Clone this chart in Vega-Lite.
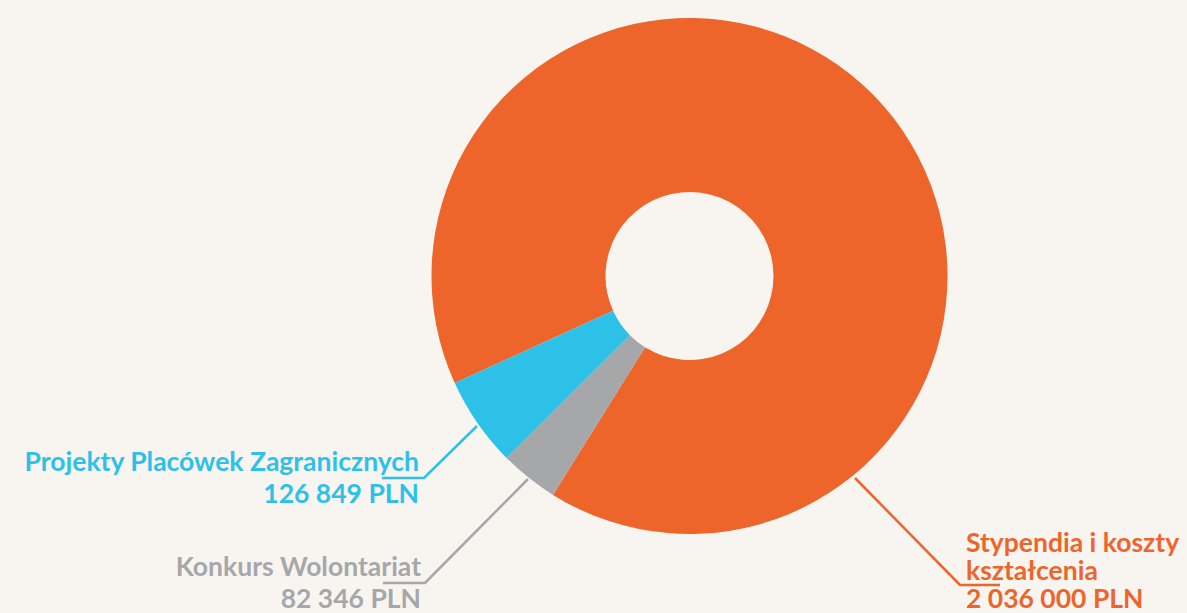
{
  "$schema": "https://vega.github.io/schema/vega-lite/v6.json",
  "width": 995,
  "height": 552,
  "autosize": {"type": "none"},
  "padding": {"left": 192, "top": 0, "right": 0, "bottom": 61},
  "background": "#F8F5F1",
  "config": {"view": {"stroke": null}},
  "datasets": {
    "slices": [
      {"category": "Stypendia i koszty kształcenia", "amount": 2036000, "ord": 1},
      {"category": "Konkurs Wolontariat", "amount": 82346, "ord": 2},
      {"category": "Projekty Placówek Zagranicznych", "amount": 126849, "ord": 3}
    ],
    "leaders": [
      {"category": "Projekty Placówek Zagranicznych", "pt": 1, "x": 382, "y": 478},
      {"category": "Projekty Placówek Zagranicznych", "pt": 2, "x": 424, "y": 478},
      {"category": "Projekty Placówek Zagranicznych", "pt": 3, "x": 477, "y": 426},
      {"category": "Konkurs Wolontariat", "pt": 1, "x": 383, "y": 583},
      {"category": "Konkurs Wolontariat", "pt": 2, "x": 425, "y": 583},
      {"category": "Konkurs Wolontariat", "pt": 3, "x": 528, "y": 479},
      {"category": "Stypendia i koszty kształcenia", "pt": 1, "x": 855, "y": 478},
      {"category": "Stypendia i koszty kształcenia", "pt": 2, "x": 960, "y": 585},
      {"category": "Stypendia i koszty kształcenia", "pt": 3, "x": 1000, "y": 585}
    ],
    "leftLabels": [
      {"category": "Projekty Placówek Zagranicznych", "label": "Projekty Placówek Zagranicznych", "x": 419, "y": 471},
      {"category": "Projekty Placówek Zagranicznych", "label": "126 849 PLN", "x": 419, "y": 503},
      {"category": "Konkurs Wolontariat", "label": "Konkurs Wolontariat", "x": 421, "y": 576},
      {"category": "Konkurs Wolontariat", "label": "82 346 PLN", "x": 421, "y": 608}
    ],
    "rightLabels": [
      {"category": "Stypendia i koszty kształcenia", "label": "Stypendia i koszty", "x": 966, "y": 552},
      {"category": "Stypendia i koszty kształcenia", "label": "kształcenia", "x": 966, "y": 580},
      {"category": "Stypendia i koszty kształcenia", "label": "2 036 000 PLN", "x": 966, "y": 608}
    ]
  },
  "layer": [
    {
      "data": {"name": "slices"},
      "mark": {"type": "arc", "innerRadius": 84, "outerRadius": 258},
      "encoding": {
        "theta": {"field": "amount", "type": "quantitative", "stack": true, "scale": {"range": [4.285, 10.568]}},
        "order": {"field": "ord", "type": "quantitative"},
        "color": {
          "field": "category", "type": "nominal",
          "scale": {
            "domain": ["Stypendia i koszty kształcenia", "Konkurs Wolontariat", "Projekty Placówek Zagranicznych"],
            "range": ["#EE652B", "#A6A7A9", "#2EC1E8"]
          },
          "legend": null
        }
      }
    },
    {
      "data": {"name": "leaders"},
      "mark": {"type": "line", "strokeWidth": 2.5, "clip": false},
      "encoding": {
        "x": {"field": "x", "type": "quantitative", "axis": null, "scale": {"domain": [192, 1187], "range": [0, 995], "zero": false, "nice": false}},
        "y": {"field": "y", "type": "quantitative", "axis": null, "scale": {"domain": [0, 552], "range": [0, 552], "zero": false, "nice": false}},
        "order": {"field": "pt", "type": "quantitative"},
        "detail": {"field": "category"},
        "color": {"field": "category", "type": "nominal", "legend": null}
      }
    },
    {
      "data": {"name": "leftLabels"},
      "mark": {"type": "text", "align": "right", "baseline": "alphabetic", "font": "Lato", "fontWeight": "bold", "fontSize": 26.5, "clip": false},
      "encoding": {
        "x": {"field": "x", "type": "quantitative"},
        "y": {"field": "y", "type": "quantitative"},
        "text": {"field": "label"},
        "color": {"field": "category", "type": "nominal", "legend": null}
      }
    },
    {
      "data": {"name": "rightLabels"},
      "mark": {"type": "text", "align": "left", "baseline": "alphabetic", "font": "Lato", "fontWeight": "bold", "fontSize": 26.5, "clip": false},
      "encoding": {
        "x": {"field": "x", "type": "quantitative"},
        "y": {"field": "y", "type": "quantitative"},
        "text": {"field": "label"},
        "color": {"field": "category", "type": "nominal", "legend": null}
      }
    }
  ]
}
